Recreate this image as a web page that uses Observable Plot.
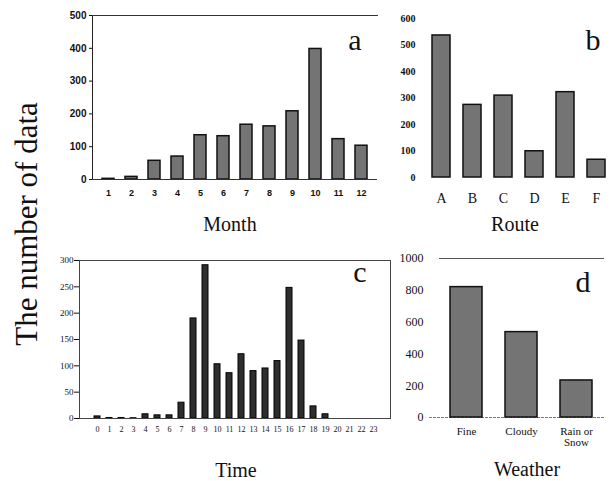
<!DOCTYPE html>
<html>
<head>
<meta charset="utf-8">
<script src="https://cdn.jsdelivr.net/npm/d3@7"></script>
<script src="https://cdn.jsdelivr.net/npm/@observablehq/plot@0.6"></script>
<style>
  html, body { margin: 0; padding: 0; background: #fff; }
  #wrap { position: relative; width: 610px; height: 481px; overflow: hidden; background: #fff; }
  .panel { position: absolute; }
  .txt { position: absolute; font-family: "Liberation Serif", "DejaVu Serif", serif; color: #111; white-space: nowrap; line-height: 1; }
</style>
</head>
<body>
<div id="wrap"></div>
<script>
// ---- data ----
const months = [1, 2, 3, 4, 5, 6, 7, 8, 9, 10, 11, 12];
const monthCounts = [2, 8, 57, 70, 135, 132, 167, 162, 208, 398, 123, 103];

const routes = ["A", "B", "C", "D", "E", "F"];
const routeCounts = [536, 274, 309, 99, 322, 67];

const hours = [0, 1, 2, 3, 4, 5, 6, 7, 8, 9, 10, 11, 12, 13, 14, 15, 16, 17, 18, 19, 20, 21, 22, 23];
const hourCounts = [4, 1, 1, 0.5, 8, 6, 6, 30, 190, 291, 103, 86, 122, 90, 95, 109, 248, 148, 23, 8, 0, 0, 0, 0];

const weathers = ["Fine", "Cloudy", "Rain or Snow"];
const weatherCounts = [820, 537, 233];

const yTicksA = [0, 100, 200, 300, 400, 500];
const yTicksB = [0, 100, 200, 300, 400, 500, 600];
const yTicksC = [0, 50, 100, 150, 200, 250, 300];
const yTicksD = [0, 200, 400, 600, 800, 1000];

const wrap = document.getElementById("wrap");
function place(node, left, top) {
  node.classList.add("panel");
  node.style.left = left + "px";
  node.style.top = top + "px";
  wrap.appendChild(node);
}
function text(str, x, y, size) {
  const d = document.createElement("div");
  d.className = "txt";
  d.textContent = str;
  d.style.fontSize = size + "px";
  d.style.left = x + "px";
  d.style.top = y + "px";
  d.style.transform = "translate(-50%,-100%)";
  wrap.appendChild(d);
  return d;
}

const barGray = "#747474";

// ---- panel a : Month ----
const dataA = months.map((m, i) => ({month: m, count: monthCounts[i]}));
place(Plot.plot({
  width: 400, height: 210,
  marginLeft: 92, marginTop: 15, marginBottom: 31, marginRight: 23,
  style: {fontFamily: "Liberation Sans, Arial, sans-serif", fontSize: "10px", fontWeight: "bold", background: "transparent", color: "#111"},
  x: {type: "band", domain: months, paddingInner: 0.47, paddingOuter: 0.24, label: null},
  y: {domain: [0, 500], label: null},
  marks: [
    Plot.barY(dataA, {x: "month", y: "count", fill: barGray, stroke: "#111", strokeWidth: 1.5}),
    Plot.frame({anchor: "left", stroke: "#222"}),
    Plot.frame({anchor: "top", stroke: "#333"}),
    Plot.ruleY([0], {stroke: "#333"}),
    Plot.axisY({ticks: yTicksA, tickSize: 3, tickPadding: 3, label: null}),
    Plot.axisX({tickSize: 0, tickPadding: 10, label: null, fontSize: 9})
  ]
}), 0, 0);

// ---- panel b : Route ----
const dataB = routes.map((r, i) => ({route: r, count: routeCounts[i]}));
place(Plot.plot({
  width: 230, height: 215,
  marginLeft: 51, marginTop: 18, marginBottom: 38, marginRight: 4,
  style: {fontFamily: "Liberation Serif, serif", fontSize: "10px", background: "transparent", color: "#111"},
  x: {type: "band", domain: routes, paddingInner: 0.43, paddingOuter: 0.0, label: null},
  y: {domain: [0, 600], label: null},
  marks: [
    Plot.barY(dataB, {x: "route", y: "count", fill: barGray, stroke: "#111", strokeWidth: 1.5}),
    Plot.axisY({ticks: yTicksB, tickSize: 0, tickPadding: 16, label: null, fontWeight: "bold"}),
    Plot.axisX({tickSize: 0, tickPadding: 16, label: null, fontSize: 14})
  ]
}), 380, 0);

// ---- panel c : Time ----
const dataC = hours.map((h, i) => ({hour: h, count: hourCounts[i]}));
place(Plot.plot({
  width: 400, height: 200,
  marginLeft: 79, marginTop: 15, marginBottom: 27, marginRight: 10,
  style: {fontFamily: "Liberation Serif, serif", fontSize: "9px", background: "transparent", color: "#111"},
  x: {type: "band", domain: hours, paddingInner: 0.5, paddingOuter: 0.37, label: null},
  y: {domain: [0, 300], label: null},
  marks: [
    Plot.barY(dataC, {x: "hour", y: "count", fill: "#2e2e2e", stroke: "#000", strokeWidth: 1}),
    Plot.frame({stroke: "#444"}),
    Plot.axisY({ticks: yTicksC, tickSize: 5, tickPadding: 1, label: null}),
    Plot.axisX({tickSize: 0, tickPadding: 8, label: null, fontSize: 8})
  ]
}), 0, 245);

// ---- panel d : Weather ----
const dataD = weathers.map((w, i) => ({weather: w, count: weatherCounts[i]}));
place(Plot.plot({
  width: 220, height: 230,
  marginLeft: 49, marginTop: 18, marginBottom: 53, marginRight: 6,
  style: {fontFamily: "Liberation Serif, serif", fontSize: "12px", background: "transparent", color: "#111"},
  x: {type: "band", domain: weathers, paddingInner: 0.41, paddingOuter: 0.18, label: null},
  y: {domain: [0, 1000], label: null},
  marks: [
    Plot.ruleY([1000], {stroke: "#555"}),
    Plot.ruleY([0], {stroke: "#777", strokeDasharray: "3,1", insetLeft: -10}),
    Plot.barY(dataD, {x: "weather", y: "count", fill: barGray, stroke: "#111", strokeWidth: 1.5}),
    Plot.axisY({ticks: yTicksD, tickSize: 0, tickPadding: 16, label: null, tickFormat: d3.format("d")}),
    Plot.axisX({tickSize: 0, tickPadding: 10, label: null, fontSize: 11,
      tickFormat: d => d === "Rain or Snow" ? "Rain or\nSnow" : d})
  ]
}), 390, 240);

// ---- titles and letters ----
text("Month", 230, 234, 20);
text("Route", 515, 234, 20);
text("Time", 236, 480, 20);
text("Weather", 527, 479, 20);

text("a", 355, 55, 30);
text("b", 593, 55, 30);
text("c", 360, 287, 30);
text("d", 583, 297, 30);

const yl = document.createElement("div");
yl.className = "txt";
yl.textContent = "The number of data";
yl.style.fontSize = "31px";
yl.style.left = "26px";
yl.style.top = "224px";
yl.style.transform = "translate(-50%,-50%) rotate(-90deg)";
wrap.appendChild(yl);
</script>
</body>
</html>
